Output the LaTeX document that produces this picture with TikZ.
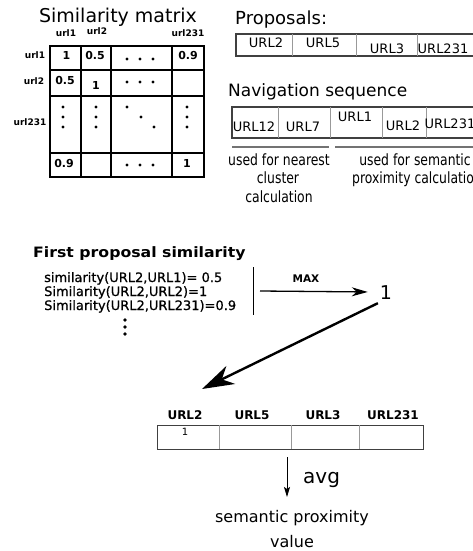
\documentclass[tikz,border=0pt]{standalone}
\usepackage{fontspec}
\setmainfont{DejaVu Sans}
\newfontfamily\condf[FakeStretch=0.8]{DejaVu Sans}
\newfontfamily\heavyf[FakeStretch=1.1]{DejaVu Sans}
\newfontfamily\semibf[FakeBold=0.8]{DejaVu Sans}
\usetikzlibrary{arrows.meta}
\newcommand\fsz[1]{\fontsize{#1}{#1}\selectfont}
\begin{document}
\begin{tikzpicture}[x=1pt,y=-1pt,
  lbl/.style={inner sep=0pt, anchor=base},
  lblw/.style={inner sep=0pt, anchor=base west},
  gridline/.style={line width=1.8pt, black},
  tborder/.style={line width=1.2pt, black!75},
  tdiv/.style={line width=0.8pt, black!40},
  uline/.style={line width=1.2pt, black!55},
  mdot/.style={fill=black},
  small/.style={font=\bfseries\fsz{9}},
  cellnum/.style={font=\bfseries\fsz{11}},
  tabtxt/.style={font=\fsz{13}},
  condtxt/.style={font=\condf\fsz{15.5}},
  simtxt/.style={font=\semibf\fsz{13}},
]
\fill[white] (0,0) rectangle (473,551);
\clip (0,0) rectangle (473,551);

% ---------- Similarity matrix ----------
\node[lbl, font=\fsz{19}] (simtitle) at (118,23) {Similarity matrix};
\node[lbl, small] (cu1) at (66,37) {url1};
\node[lbl, small] (cu2) at (97,35) {url2};
\node[lbl, small] (cu231) at (188,37) {url231};
\node[lbl, small] (ru1) at (35,59) {url1};
\node[lbl, small] (ru2) at (34,84) {url2};
\node[lbl, small] (ru231) at (30,125) {url231};

\draw[gridline] (50,46) rectangle (204,177);
\foreach \x in {81,111,172} \draw[gridline] (\x,46) -- (\x,177);
\foreach \y in {70,96,153} \draw[gridline] (50,\y) -- (204,\y);

\node[lbl, cellnum] (m11) at (66.5,59.5) {1};
\node[lbl, cellnum] (m12) at (95,59.5) {0.5};
\node[lbl, cellnum] (m14) at (188,59.5) {0.9};
\node[lbl, cellnum] (m21) at (65,84) {0.5};
\node[lbl, cellnum] (m22) at (96,89) {1};
\node[lbl, cellnum] (m41) at (64,167.5) {0.9};
\node[lbl, cellnum] (m44) at (187,167.5) {1};
\foreach \y in {59,82,165} \foreach \x in {127,140,153} \fill[mdot] (\x,\y) circle (1.6);
\foreach \x in {63,96,187} \foreach \y in {107,117,127} \fill[mdot] (\x,\y) circle (1.6);
\fill[mdot] (127,107) circle (1.6);
\fill[mdot] (141,117) circle (1.6);
\fill[mdot] (154,127) circle (1.6);

% ---------- Proposals ----------
\node[lblw, font=\fsz{18}] (proptitle) at (235,25) {Proposals:};
\draw[tborder] (480,34) -- (236,34) -- (236,56) -- (480,56);
\foreach \x in {292,356,417} \draw[tdiv] (\x,34) -- (\x,56);
\node[lbl, tabtxt] (p1) at (266,48) {URL2};
\node[lbl, tabtxt] (p2) at (323,48) {URL5};
\node[lbl, tabtxt] (p3) at (387,53) {URL3};
\node[lbl, tabtxt] (p4) at (443,53) {URL231};

% ---------- Navigation sequence ----------
\node[lblw, font=\fsz{17}] (navtitle) at (228,96) {Navigation sequence};
\draw[tborder] (480,107) -- (232,107) -- (232,138) -- (480,138);
\foreach \x in {278,330,382,426} \draw[tdiv] (\x,107) -- (\x,138);
\node[lbl, tabtxt] (n1) at (254,131) {URL12};
\node[lbl, tabtxt] (n2) at (303,131) {URL7};
\node[lbl, tabtxt] (n3) at (355,121) {URL1};
\node[lbl, tabtxt] (n4) at (403,130) {URL2};
\node[lbl, tabtxt] (n5) at (450,128) {URL231};

\draw[uline] (232,147) -- (329,147);
\draw[uline] (335,147) -- (480,147);
\node[lbl, condtxt] (near1) at (279,165) {used for nearest};
\node[lbl, condtxt] (near2) at (278,183.5) {cluster};
\node[lbl, condtxt] (near3) at (279,202) {calculation};
\node[lbl, condtxt] (sem1) at (415,165) {used for semantic};
\node[lbl, condtxt] (sem2) at (417,183.5) {proximity calculation};

% ---------- First proposal similarity ----------
\node[lblw, font=\heavyf\bfseries\fsz{14.3}] (fps) at (33,257) {First proposal similarity};
\node[lblw, simtxt] (s1) at (44,282) {similarity(URL2,URL1)= 0.5};
\node[lblw, simtxt] (s2) at (44,296) {Similarity(URL2,URL2)=1};
\node[lblw, simtxt] (s3) at (44,310) {Similarity(URL2,URL231)=0.9};
\foreach \y in {320,327,334} \fill[mdot] (125,\y) circle (1.9);

\draw[line width=1pt] (253,267) -- (253,315);
\coordinate (maxstart) at (260,291);
\node[lbl, font=\fsz{19}] (one) at (386,299) {1};
\node[lbl, font=\bfseries\fsz{10.5}] (maxlbl) at (306,282) {MAX};
\draw[line width=1.3pt, -{Stealth[length=16pt,width=9pt,inset=5pt]}, shorten >=12pt] (maxstart) -- (one.west);

\coordinate (bigtip) at (202,389);
\draw[line width=2.4pt, -{Stealth[length=32pt,width=20pt,inset=10pt]}, shorten <=9pt] (one.south) -- (bigtip);

% ---------- Result table ----------
\node[lbl, font=\bfseries\fsz{12}] (h1) at (185,419) {URL2};
\node[lbl, font=\bfseries\fsz{12}] (h2) at (252,419) {URL5};
\node[lbl, font=\bfseries\fsz{12}] (h3) at (323,419) {URL3};
\node[lbl, font=\bfseries\fsz{12}] (h4) at (393,419) {URL231};
\node[draw=black!75, line width=1.2pt, minimum width=266pt, minimum height=24pt, inner sep=0pt, anchor=north west] (tbl) at (157,425) {};
\foreach \x in {219,291,359} \draw[tdiv] (\x,425) -- (\x,449);
\node[lbl, font=\fsz{10}] (r1) at (185,435) {1};

\coordinate (avgstart) at (287,457);
\coordinate (avgend) at (287,497);
\draw[line width=1pt, -{Stealth[length=10pt,width=6pt,inset=2pt]}] (avgstart) -- (avgend);
\node[lblw, font=\fsz{20}] (avg) at (303,483) {avg};
\node[lbl, font=\fsz{16}] (sp1) at (292,522) {semantic proximity};
\node[lbl, font=\fsz{16}] (sp2) at (292,547) {value};
\end{tikzpicture}
\end{document}
